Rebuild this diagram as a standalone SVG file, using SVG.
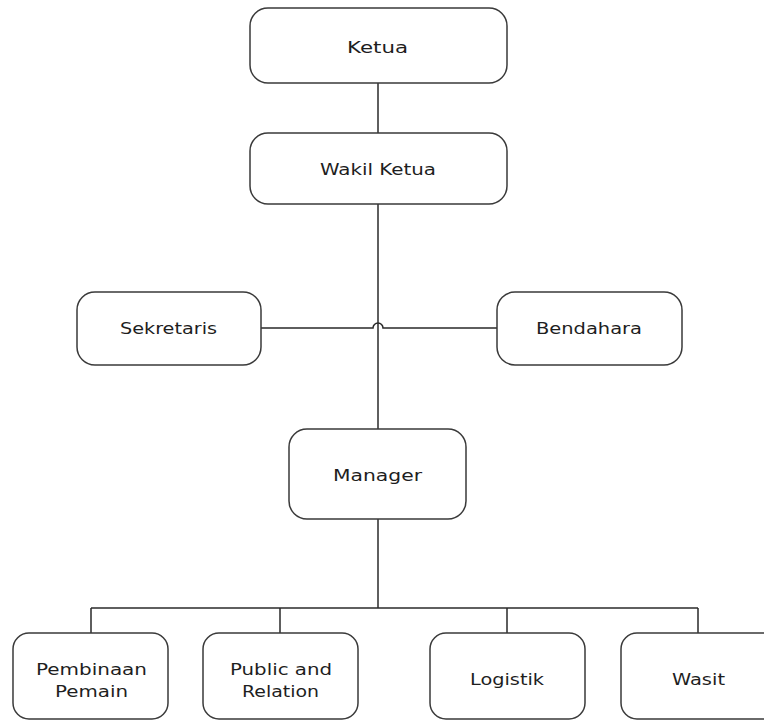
<svg xmlns="http://www.w3.org/2000/svg" width="764" height="721" viewBox="0 0 764 721">
<style>
.box{fill:#fff;stroke:#3a3a3a;stroke-width:1.5}
.ln{fill:none;stroke:#2a2a2a;stroke-width:1.5}
text{font-family:"DejaVu Sans","Liberation Sans",sans-serif;font-size:16px;fill:#1e1e1e}
</style>
<rect width="764" height="721" fill="#fff"/>
<g id="connectors">
<path class="ln" d="M378,83 V133"/>
<path class="ln" d="M378,204 V429"/>
<path class="ln" d="M261,328 H373 A5,5 0 0 1 383,328 H497"/>
<path class="ln" d="M378,519 V608"/>
<path class="ln" d="M91,608 H698"/>
<path class="ln" d="M91,608 V633 M280,608 V633 M507,608 V633 M698,608 V633"/>
</g>
<g id="ketua"><rect class="box" x="250" y="8" width="257" height="75" rx="18"/><text x="347" y="53" textLength="61" lengthAdjust="spacingAndGlyphs">Ketua</text></g>
<g id="wakil-ketua"><rect class="box" x="250" y="133" width="257" height="71" rx="18"/><text x="320" y="175" textLength="116" lengthAdjust="spacingAndGlyphs">Wakil Ketua</text></g>
<g id="sekretaris"><rect class="box" x="77" y="292" width="184" height="73" rx="18"/><text x="120" y="334" textLength="97" lengthAdjust="spacingAndGlyphs">Sekretaris</text></g>
<g id="bendahara"><rect class="box" x="497" y="292" width="185" height="73" rx="18"/><text x="536" y="334" textLength="106" lengthAdjust="spacingAndGlyphs">Bendahara</text></g>
<g id="manager"><rect class="box" x="289" y="429" width="177" height="90" rx="18"/><text x="333" y="481" textLength="89" lengthAdjust="spacingAndGlyphs">Manager</text></g>
<g id="pembinaan-pemain"><rect class="box" x="13" y="633" width="155" height="86" rx="16"/><text x="36" y="675" textLength="111" lengthAdjust="spacingAndGlyphs">Pembinaan</text><text x="55" y="697" textLength="73" lengthAdjust="spacingAndGlyphs">Pemain</text></g>
<g id="public-relation"><rect class="box" x="203" y="633" width="155" height="86" rx="16"/><text x="230" y="675" textLength="102" lengthAdjust="spacingAndGlyphs">Public and</text><text x="242" y="697" textLength="77" lengthAdjust="spacingAndGlyphs">Relation</text></g>
<g id="logistik"><rect class="box" x="430" y="633" width="155" height="86" rx="16"/><text x="470" y="685" textLength="74" lengthAdjust="spacingAndGlyphs">Logistik</text></g>
<g id="wasit"><rect class="box" x="621" y="633" width="170" height="86" rx="16"/><text x="672" y="685" textLength="53" lengthAdjust="spacingAndGlyphs">Wasit</text></g>
</svg>
